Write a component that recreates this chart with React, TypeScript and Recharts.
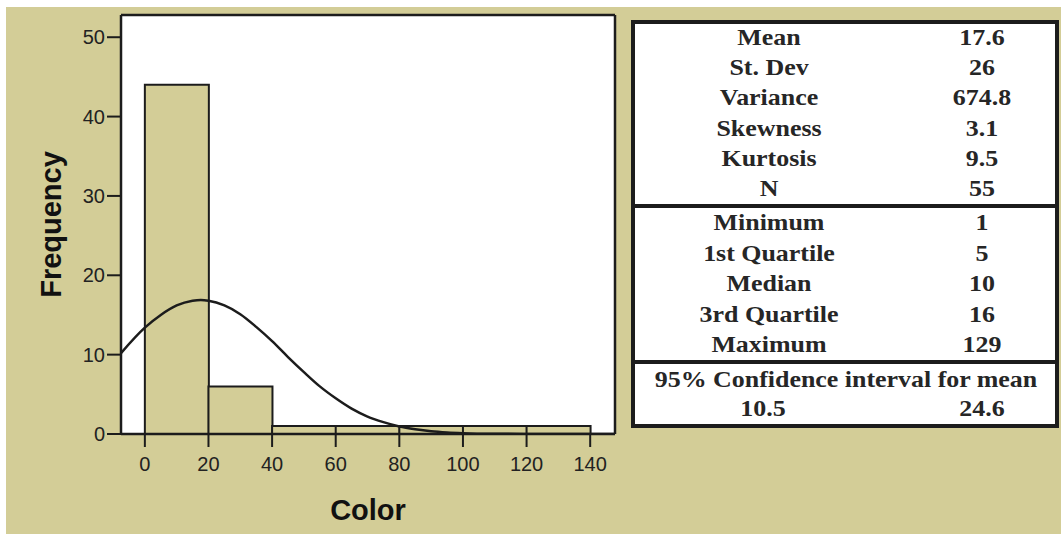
import React from "react";
import { Bar, CartesianGrid, ComposedChart, Line, XAxis, YAxis } from "recharts";

// histogram bins (start of each 20-wide bin) and counts
const binStarts = [0, 20, 40, 60, 80, 100, 120];
const binCounts = [44, 6, 1, 1, 1, 1, 1];

// fitted normal curve
const curveX = [-7.5, 0, 5, 10, 15, 17.6, 20, 25, 30, 35, 40, 45, 50, 55, 60, 65, 70, 75, 80, 85, 90, 95, 100, 110, 120, 130, 140, 147.8];
const curveY = [10.2, 13.4, 15.0, 16.2, 16.8, 16.9, 16.8, 16.2, 15.1, 13.5, 11.7, 9.7, 7.8, 6.0, 4.5, 3.2, 2.2, 1.5, 0.95, 0.6, 0.35, 0.2, 0.11, 0.03, 0.01, 0, 0, 0];

const xTicks = [0, 20, 40, 60, 80, 100, 120, 140];
const yTicks = [0, 10, 20, 30, 40, 50];

const statLabels = ["Mean", "St. Dev", "Variance", "Skewness", "Kurtosis", "N"];
const statValues = ["17.6", "26", "674.8", "3.1", "9.5", "55"];
const quartLabels = ["Minimum", "1st Quartile", "Median", "3rd Quartile", "Maximum"];
const quartValues = ["1", "5", "10", "16", "129"];
const ciTitle = "95% Confidence interval for mean";
const ciValues = ["10.5", "24.6"];

const KHAKI = "#d3cd97";
const INK = "#1c1c1c";

const bins = binStarts.map((s, i) => ({ mid: s + 10, count: binCounts[i] }));
const curve = curveX.map((x, i) => ({ x, y: curveY[i] }));

const tickStyle = { fontSize: 20, fill: "#222", fontFamily: "Liberation Sans, Arial, sans-serif" };
const labelStyle = { fontSize: 29, fontWeight: 700, fill: "#111", fontFamily: "Liberation Sans, Arial, sans-serif" };

const cellFont: React.CSSProperties = {
  fontFamily: "Liberation Serif, serif",
  fontWeight: 700,
  fontSize: 24,
  color: "#262626",
  position: "absolute",
  transform: "translate(-50%, -50%) scaleX(1.08)",
  whiteSpace: "nowrap",
};

function StatRows({ labels, values, top, step }: { labels: string[]; values: string[]; top: number; step: number }) {
  return (
    <>
      {labels.map((l, i) => (
        <React.Fragment key={l}>
          <div style={{ ...cellFont, left: 134, top: top + i * step }}>{l}</div>
          <div style={{ ...cellFont, left: 347, top: top + i * step }}>{values[i]}</div>
        </React.Fragment>
      ))}
    </>
  );
}

function StatsTable() {
  return (
    <div
      style={{
        position: "absolute",
        left: 631,
        top: 20,
        width: 428,
        height: 408,
        boxSizing: "border-box",
        border: `4px solid ${INK}`,
        background: "#fff",
      }}
    >
      <StatRows labels={statLabels} values={statValues} top={13} step={30.2} />
      <div style={{ position: "absolute", left: 0, right: 0, top: 180, height: 4, background: INK }} />
      <StatRows labels={quartLabels} values={quartValues} top={198} step={30.5} />
      <div style={{ position: "absolute", left: 0, right: 0, top: 336, height: 4, background: INK }} />
      <div style={{ ...cellFont, left: 211, top: 355 }}>{ciTitle}</div>
      <div style={{ ...cellFont, left: 128, top: 384 }}>{ciValues[0]}</div>
      <div style={{ ...cellFont, left: 347, top: 384 }}>{ciValues[1]}</div>
    </div>
  );
}

export default function App() {
  return (
    <div style={{ position: "absolute", left: 0, top: 0, width: 1061, height: 534, background: "#fff", overflow: "hidden" }}>
      <div style={{ position: "absolute", left: 6, top: 7, width: 1055, height: 527, background: KHAKI }} />
      <div style={{ position: "absolute", left: 0, top: 0 }}>
        <ComposedChart
          width={640}
          height={534}
          data={bins}
          barCategoryGap={0}
          barGap={0}
          margin={{ top: 14, right: 24, bottom: 0, left: 0 }}
        >
          <CartesianGrid horizontal={false} vertical={false} fill="#fff" fillOpacity={1} />
          <XAxis
            dataKey="mid"
            type="number"
            domain={[-7.5, 147.8]}
            allowDataOverflow
            ticks={xTicks}
            interval={0}
            height={100}
            tick={tickStyle}
            tickSize={13}
            tickMargin={10}
            axisLine={{ stroke: INK, strokeWidth: 2.5 }}
            tickLine={{ stroke: INK, strokeWidth: 2 }}
            label={{ value: "Color", position: "center", dy: 26, style: labelStyle }}
          />
          <XAxis
            xAxisId="curve"
            dataKey="x"
            type="number"
            orientation="top"
            domain={[-7.5, 147.8]}
            allowDataOverflow
            height={1}
            tick={false}
            tickLine={false}
            axisLine={{ stroke: INK, strokeWidth: 2.5 }}
          />
          <YAxis
            type="number"
            domain={[0, 52.8]}
            allowDataOverflow
            ticks={yTicks}
            interval={0}
            width={121}
            tick={tickStyle}
            tickSize={14}
            tickMargin={2}
            axisLine={{ stroke: INK, strokeWidth: 2.5 }}
            tickLine={{ stroke: INK, strokeWidth: 2 }}
            label={{ value: "Frequency", angle: -90, position: "center", dx: -10, style: labelStyle }}
          />
          <YAxis
            yAxisId="right"
            orientation="right"
            type="number"
            domain={[0, 52.8]}
            width={1}
            tick={false}
            tickLine={false}
            axisLine={{ stroke: INK, strokeWidth: 2.5 }}
          />
          <Bar dataKey="count" fill={KHAKI} stroke={INK} strokeWidth={2} isAnimationActive={false} />
          <Line
            xAxisId="curve"
            data={curve}
            dataKey="y"
            type="monotone"
            dot={false}
            stroke={INK}
            strokeWidth={2.5}
            isAnimationActive={false}
          />
        </ComposedChart>
      </div>
      <StatsTable />
    </div>
  );
}
